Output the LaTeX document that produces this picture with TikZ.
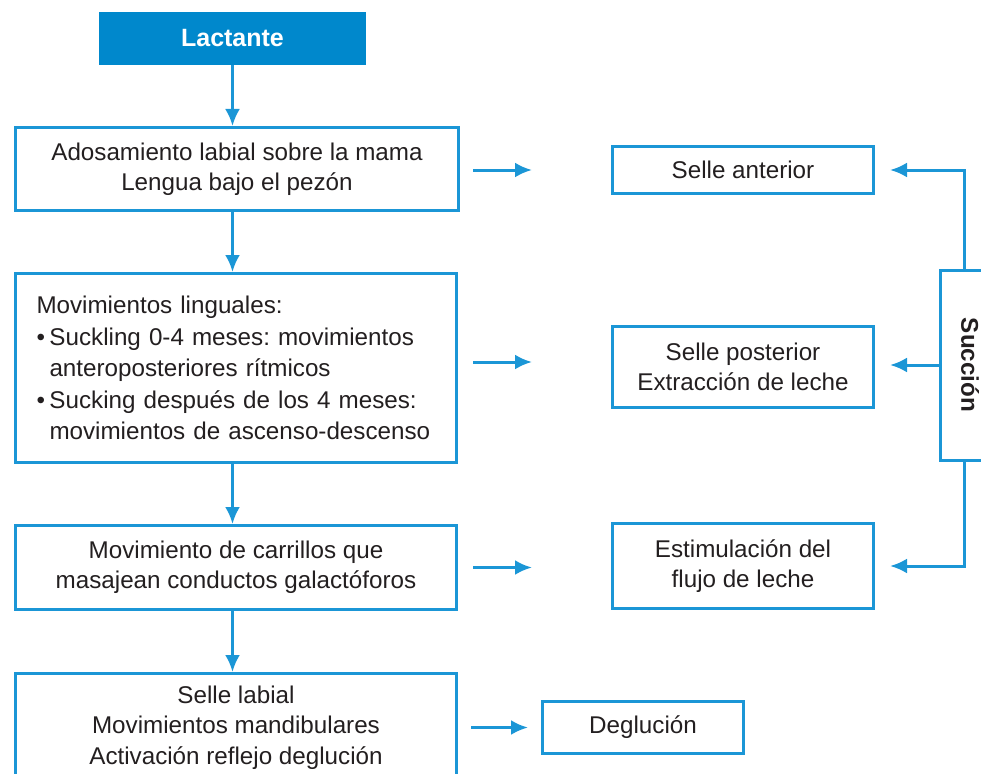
\documentclass[tikz,border=0pt]{standalone}
\usepackage{fontspec}
\setmainfont{Liberation Sans}
\usetikzlibrary{arrows.meta}
\definecolor{bl}{RGB}{0,136,204}
\definecolor{ln}{RGB}{27,150,214}
\definecolor{tx}{RGB}{35,31,32}
\begin{document}
\frenchspacing
\begin{tikzpicture}[x=1pt,y=-1pt,
  box/.style={draw=ln, line width=3pt, fill=white, inner sep=0pt, text=tx,
    font=\fontsize{24.2}{30}\selectfont, align=center},
  arr/.style={draw=ln, line width=3pt, -{Latex[length=17pt,width=15pt]}}]
\useasboundingbox (0,0) rectangle (981,773);
\clip (0,0) rectangle (981,773);

\node[draw=bl, fill=bl, line width=1pt, anchor=north west, minimum width=266, minimum height=52,
  text=white, font=\fontsize{25}{30}\selectfont\bfseries] (lac) at (99,12) {Lactante};

\node[box, anchor=north west, minimum width=443, minimum height=83] (b1) at (14,126)
  {Adosamiento labial sobre la mama\\Lengua bajo el pezón};

\node[box, anchor=north west, minimum height=189, text width=399, inner xsep=21pt, align=left,
  font=\fontsize{24.2}{31.5}\selectfont] (b2) at (14,272)
  {Movimientos linguales:\\
   \makebox[13pt][l]{•}Suckling 0-4 meses: movimientos\\
   \hspace*{13pt}anteroposteriores rítmicos\\
   \makebox[13pt][l]{•}Sucking después de los 4 meses:\\
   \hspace*{13pt}movimientos de ascenso-descenso};

\node[box, anchor=north west, minimum width=441, minimum height=84] (b3) at (14,524)
  {Movimiento de carrillos que\\masajean conductos galactóforos};

\node[box, anchor=north west, minimum width=441, minimum height=108,
  font=\fontsize{24.2}{30.5}\selectfont] (b4) at (14,672)
  {Selle labial\\Movimientos mandibulares\\Activación reflejo deglución};

\node[box, anchor=north west, minimum width=261, minimum height=47] (sa) at (611,145) {Selle anterior};
\node[box, anchor=north west, minimum width=261, minimum height=81] (sp) at (611,325)
  {Selle posterior\\Extracción de leche};
\node[box, anchor=north west, minimum width=261, minimum height=85] (ef) at (611,522)
  {Estimulación del\\flujo de leche};
\node[box, anchor=north west, minimum width=201, minimum height=52] (dg) at (541,700) {Deglución};

\node[box, rotate=-90, minimum width=190, minimum height=60,
  font=\fontsize{24.2}{30}\selectfont\bfseries] (su) at (970,365) {Succión};

% vertical arrows
\draw[arr] (lac.south) -- (lac.south |- b1.north);
\draw[arr] (lac.south |- b1.south) -- (lac.south |- b2.north);
\draw[arr] (lac.south |- b2.south) -- (lac.south |- b3.north);
\draw[arr] (lac.south |- b3.south) -- (lac.south |- b4.north);

% horizontal arrows
\draw[arr] ([xshift=13pt]b1.east |- sa.west) -- ([xshift=-79pt]sa.west);
\draw[arr] ([xshift=15pt]b2.east |- 0,362) -- ([xshift=-79pt]sp.west |- 0,362);
\draw[arr] ([xshift=15pt]b3.east) -- ([xshift=-79pt]ef.west |- b3.east);
\draw[arr] ([xshift=13pt]b4.east |- dg.west) -- ([xshift=-13pt]dg.west);

% succion connectors
\draw[arr, shorten >=15pt] ([xshift=-6pt]su.west) |- (sa.east);
\draw[arr, shorten >=15pt] (su.south) -- (su.south -| sp.east);
\draw[arr, shorten >=15pt] ([xshift=-6pt]su.east) |- (ef.east);
\end{tikzpicture}
\end{document}
